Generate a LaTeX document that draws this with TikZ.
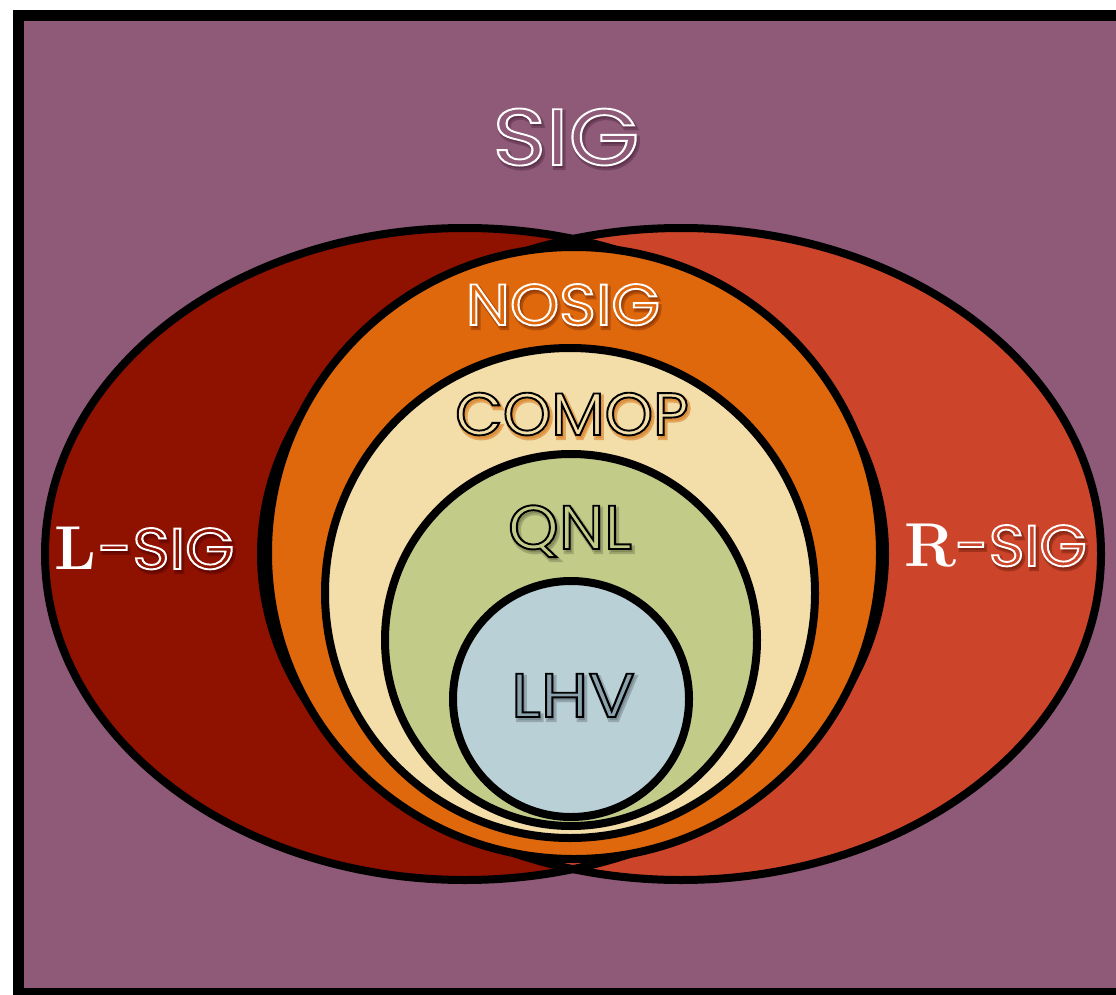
\documentclass[tikz,border=0pt]{standalone}
\usepackage{fontspec}
\newfontfamily\deco{Poppins}
\usetikzlibrary{calc}
\definecolor{bgpurple}{HTML}{8E5A78}
\definecolor{lred}{HTML}{8F1100}
\definecolor{rred}{HTML}{CC4429}
\definecolor{nosig}{HTML}{E0680C}
\definecolor{comop}{HTML}{F3DDA8}
\definecolor{qnl}{HTML}{C3CB89}
\definecolor{lhv}{HTML}{BAD0D7}
\definecolor{lhvtxt}{HTML}{8AA2AD}
\tikzset{
  region/.style={draw=black, line width=8pt},
  lbl/.style={inner sep=0pt, anchor=base},
}
% outlined text: #1 stroke colour as "r g b", #2 stroke width, #3 text
\newcommand{\strk}[3]{\special{pdf:literal direct 2 Tr #2 w #1 RG}#3\special{pdf:literal direct 0 Tr}}
% shadow text: #1 colour as "r g b", #2 stroke width, #3 text
\newcommand{\shd}[3]{\special{pdf:literal direct 2 Tr #2 w #1 RG #1 rg}#3\special{pdf:literal direct 0 Tr}}
% #1 position, #2 outline rgb, #3 fill colour, #4 shadow rgb, #5 font size, #6 text, #7 name, #8 x stretch, #9 shadow opacity
\newcommand{\hollow}[9]{%
  \node[lbl, opacity=#9, font={\deco\fontsize{#5}{#5}\selectfont}] at ($(#1)+(2,3)$) {\scalebox{#8}[1]{\shd{#4}{4}{#6}}};
  \node[lbl, text=#3, font={\deco\fontsize{#5}{#5}\selectfont}] (#7) at (#1) {\scalebox{#8}[1]{\strk{#2}{1.9}{#6}}};
}
\begin{document}
\begin{tikzpicture}[x=1pt, y=-1pt]
\useasboundingbox (0,0) rectangle (1116,995);
\clip (0,0) rectangle (1116,995);
% frame
\fill[bgpurple] (18.5,15.5) rectangle (1140,993.5);
\draw[line width=11pt] (18.5,15.5) rectangle (1140,993.5);
% two ellipses
\fill[lred] (465,554) ellipse [x radius=420, y radius=326];
\fill[rred] (681,554) ellipse [x radius=420, y radius=326];
\draw[region] (465,554) ellipse [x radius=420, y radius=326];
\draw[region] (681,554) ellipse [x radius=420, y radius=326];
% nested circles
\filldraw[region, fill=nosig] (574,553) circle [radius=306];
\filldraw[region, fill=comop] (570,593) circle [radius=245];
\filldraw[region, fill=qnl] (571,640) circle [radius=186];
\filldraw[region, fill=lhv] (571,699) circle [radius=118];
% labels
\coordinate (pSIG) at (566,165);
\coordinate (pNOSIG) at (563,325);
\coordinate (pCOMOP) at (572,435);
\coordinate (pQNL) at (570,549);
\coordinate (pLHV) at (573,717);
\hollow{pSIG}{1 1 1}{bgpurple}{0.25 0.1 0.2}{80}{SIG}{tSIG}{1.14}{0.35}
\hollow{pNOSIG}{1 1 1}{nosig}{0.45 0.15 0}{58}{NOSIG}{tNOSIG}{1.08}{0.4}
\hollow{pCOMOP}{0 0 0}{comop}{0.85 0.5 0.15}{60}{COMOP}{tCOMOP}{1.03}{0.6}
\hollow{pQNL}{0 0 0}{qnl}{0.3 0.32 0.2}{62}{QNL}{tQNL}{1.04}{0.3}
\hollow{pLHV}{0 0 0}{lhvtxt}{0.25 0.3 0.35}{62}{LHV}{tLHV}{1.11}{0.3}
% L-SIG and R-SIG
\coordinate (pLS) at (166,569);
\coordinate (pRS) at (1021,566);
\hollow{pLS}{1 1 1}{lred}{0.3 0 0}{58}{-SIG}{tLS}{1.09}{0.4}
\node[lbl, anchor=base east, text=white, font={\bfseries\fontsize{62}{62}\selectfont}] (tL) at ($(tLS.base west)+(-1,0)$) {L};
\hollow{pRS}{1 1 1}{rred}{0.4 0.1 0.05}{58}{-SIG}{tRS}{1.05}{0.4}
\node[lbl, anchor=base east, text=white, font={\bfseries\fontsize{62}{62}\selectfont}] (tR) at ($(tRS.base west)+(2,0)$) {R};
\end{tikzpicture}
\end{document}
